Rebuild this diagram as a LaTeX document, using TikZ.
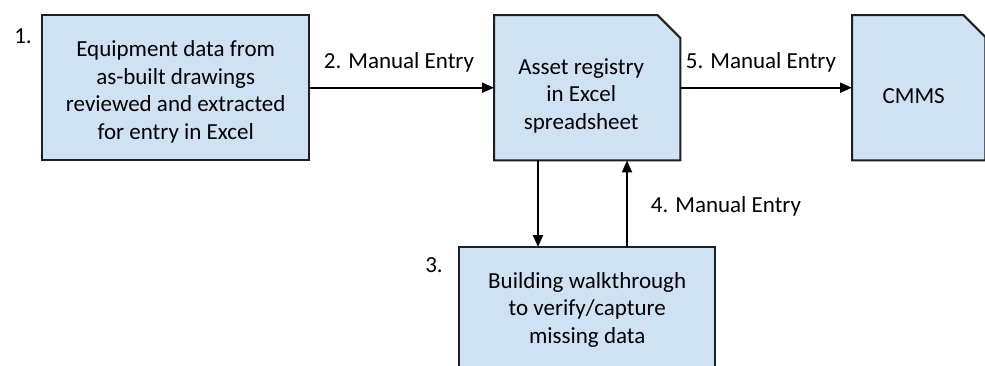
\documentclass[tikz,border=0pt]{standalone}
\usepackage{fontspec}
\setmainfont{Carlito}
\usetikzlibrary{arrows.meta,calc}
\definecolor{boxfill}{HTML}{CFE2F3}
\definecolor{boxline}{HTML}{1F1F1F}
\begin{document}
\begin{tikzpicture}[x=1pt,y=-1pt,
  frame/.style={shape=rectangle,draw=none,inner sep=0pt,anchor=north west},
  boxpath/.style={fill=boxfill,draw=boxline,line width=2pt,line join=miter},
  boxtext/.style={align=center,inner sep=0pt,font=\fontsize{23}{27.5}\selectfont},
  lbl/.style={inner sep=0pt,anchor=base,font=\fontsize{23}{27.5}\selectfont},
  flow/.style={draw=black,line width=2pt,-{Triangle[length=12pt,width=10pt]}}]
\useasboundingbox (0,0) rectangle (985,365);
\fill[white] (0,0) rectangle (985,365);
\clip (0,0) rectangle (985,365);

% box geometry
\node[frame,minimum width=267pt,minimum height=145pt] (b1) at (42,15) {};
\node[frame,minimum width=186pt,minimum height=145pt] (b2) at (494,15) {};
\node[frame,minimum width=133pt,minimum height=145pt] (b5) at (852,15) {};
\node[frame,minimum width=256pt,minimum height=125pt] (b3) at (459,247) {};

% outlines
\draw[boxpath] (b1.north west) rectangle (b1.south east);
\draw[boxpath] (b2.south west) -- (b2.north west) -- ([xshift=-23pt]b2.north east)
  -- ([yshift=-23pt]b2.north east) -- (b2.south east) -- cycle;
\draw[boxpath] (b5.south west) -- (b5.north west) -- ([xshift=-22pt]b5.north east)
  -- ([yshift=-22pt]b5.north east) -- (b5.south east) -- cycle;
\draw[boxpath] (b3.north west) rectangle (b3.south east);

% box texts
\node[boxtext] (t1) at ([yshift=-4pt]b1.center)
  {Equipment data from\\as-built drawings\\reviewed and extracted\\for entry in Excel};
\node[boxtext] (t2) at ([xshift=-6pt,yshift=-8pt]b2.center)
  {Asset registry\\in Excel\\spreadsheet};
\node[boxtext] (t5) at ([xshift=-5pt,yshift=-8pt]b5.center) {CMMS};
\node[boxtext] (t3) at (b3.center)
  {Building walkthrough\\to verify/capture\\missing data};

% connectors
\coordinate (dtop) at ([xshift=44pt]b2.south west);
\coordinate (utop) at ([xshift=133pt]b2.south west);
\draw[flow] (b1.east) -- (b2.west);
\draw[flow] (b2.east) -- (b5.west);
\draw[flow] (dtop) -- (dtop |- b3.north);
\draw[flow] (utop |- b3.north) -- (utop);

% step labels
\node[lbl] (n1) at (23,43) {1.};
\node[lbl] (n3) at (434,272) {3.};
\node[lbl] (m2) at (399,68) {2. Manual Entry};
\node[lbl] (m5) at (761,68) {5. Manual Entry};
\node[lbl] (m4) at (726,212) {4. Manual Entry};
\end{tikzpicture}
\end{document}
